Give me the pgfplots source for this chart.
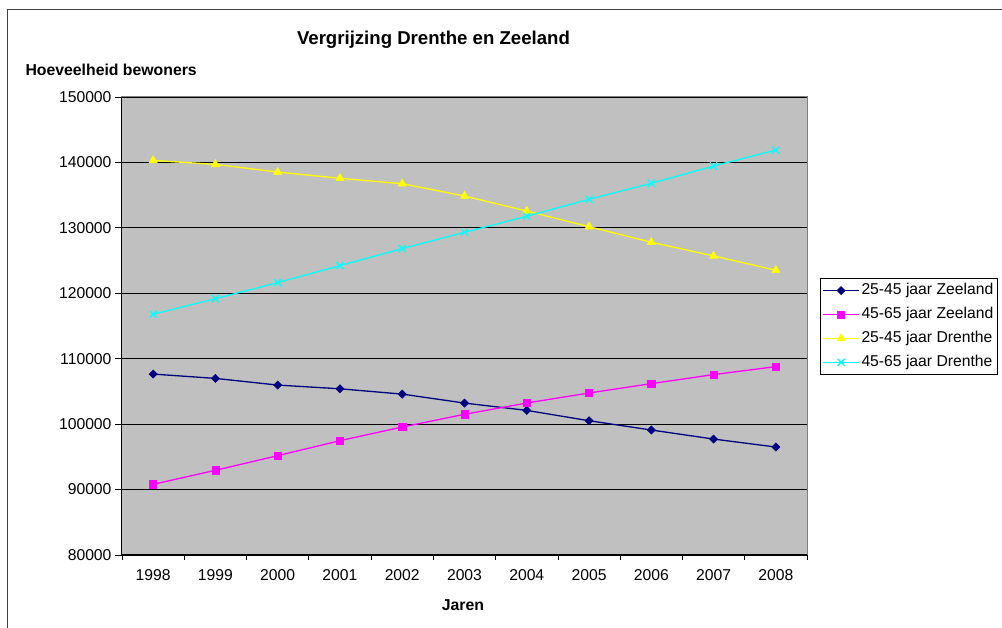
\documentclass[border=0pt]{standalone}
\usepackage{pgfplots}
\pgfplotsset{compat=1.18}
\usepackage{fontspec}
\setmainfont{Liberation Sans}
\definecolor{plotbg}{HTML}{C0C0C0}
\definecolor{navyc}{HTML}{000080}
\definecolor{magc}{HTML}{FF00FF}
\definecolor{yelc}{HTML}{FFFF00}
\definecolor{cyac}{HTML}{00FFFF}
\newcommand{\ticksize}{\fontsize{15.7}{18}\selectfont}
\newcommand{\labsize}{\fontsize{15.8}{18}\selectfont\bfseries}
\begin{document}
\begin{tikzpicture}[x=1pt,y=1pt]
\useasboundingbox (0,0) rectangle (1002,628);
\draw[black!75, line width=1pt] (7.5,0) -- (7.5,618) -- (1002,618);
\begin{axis}[
  at={(122pt,73pt)}, anchor=south west,
  scale only axis, width=685pt, height=458pt,
  xmin=-0.5, xmax=10.5, ymin=80000, ymax=150000,
  axis background/.style={fill=plotbg},
  axis line style={draw=black!50, line width=1pt},
  xtick={0,...,10},
  xticklabels={1998,1999,2000,2001,2002,2003,2004,2005,2006,2007,2008},
  minor xtick={-0.5,0.5,...,10.5},
  major x tick style={draw=none},
  minor x tick style={draw=black, line width=0.8pt},
  ytick style={draw=black, line width=0.8pt},
  xtick pos=left, ytick pos=left,
  tick align=outside,
  major tick length=7pt,
  minor tick length=5pt,
  ytick={80000,90000,...,150000},
  scaled y ticks=false,
  yticklabel style={/pgf/number format/.cd, fixed, set thousands separator={}, assume math mode=true},
  tick label style={font=\ticksize},
  xticklabel style={yshift=-4pt},
  ymajorgrids,
  grid style={black, line width=0.8pt},
  title={Vergrijzing Drenthe en Zeeland},
  title style={font=\fontsize{18.6}{21}\selectfont\bfseries, at={(axis description cs:0.4547,1.1114)}, anchor=center},
  xlabel={Jaren},
  every axis x label/.style={at={(axis description cs:0.4978,-0.1092)}, anchor=center, font=\labsize},
  ylabel={Hoeveelheid bewoners},
  every axis y label/.style={at={(axis description cs:-0.1460,1.059)}, anchor=west, font=\labsize},
  legend cell align=left,
  legend style={at={(1.019,0.6048)}, anchor=north west, draw=black, line width=0.8pt, fill=white,
    font=\ticksize, row sep=5.5pt, inner xsep=2pt, inner ysep=3pt,
    nodes={text height=11.5pt, text depth=3.3pt, inner sep=1.8pt}},
  legend image code/.code={\draw[#1, mark repeat=2, mark phase=2] plot coordinates {(0pt,0pt)(18pt,0pt)(36pt,0pt)};},
  after end axis/.code={\draw[black, line width=1pt] (rel axis cs:0,1) -- (rel axis cs:0,0) -- (rel axis cs:1,0);},
]
\addplot[navyc, line width=1.3pt, mark=square*, mark size=2.9pt, mark options={solid, rotate=45, fill=navyc, line width=0.5pt}] coordinates {
(0,107650) (1,106990) (2,105970) (3,105400) (4,104590) (5,103220) (6,102100) (7,100520) (8,99100) (9,97720) (10,96500)};
\addlegendentry{25-45 jaar Zeeland}
\addplot[magc, line width=1.3pt, mark=square*, mark size=3.6pt, mark options={solid, fill=magc, line width=0.5pt}] coordinates {
(0,90800) (1,92940) (2,95180) (3,97470) (4,99560) (5,101500) (6,103230) (7,104760) (8,106190) (9,107570) (10,108790)};
\addlegendentry{45-65 jaar Zeeland}
\addplot[yelc, line width=1.3pt, mark=triangle*, mark size=4.8pt, mark options={solid, fill=yelc, line width=0.5pt}] coordinates {
(0,140300) (1,139700) (2,138530) (3,137570) (4,136750) (5,134860) (6,132570) (7,130180) (8,127800) (9,125710) (10,123520)};
\addlegendentry{25-45 jaar Drenthe}
\addplot[cyac, line width=1.3pt, mark=x, mark size=5pt, mark options={solid, line width=1.3pt}] coordinates {
(0,116800) (1,119180) (2,121630) (3,124230) (4,126830) (5,129320) (6,131770) (7,134370) (8,136810) (9,139450) (10,141890)};
\addlegendentry{45-65 jaar Drenthe}
\end{axis}
\end{tikzpicture}
\end{document}
